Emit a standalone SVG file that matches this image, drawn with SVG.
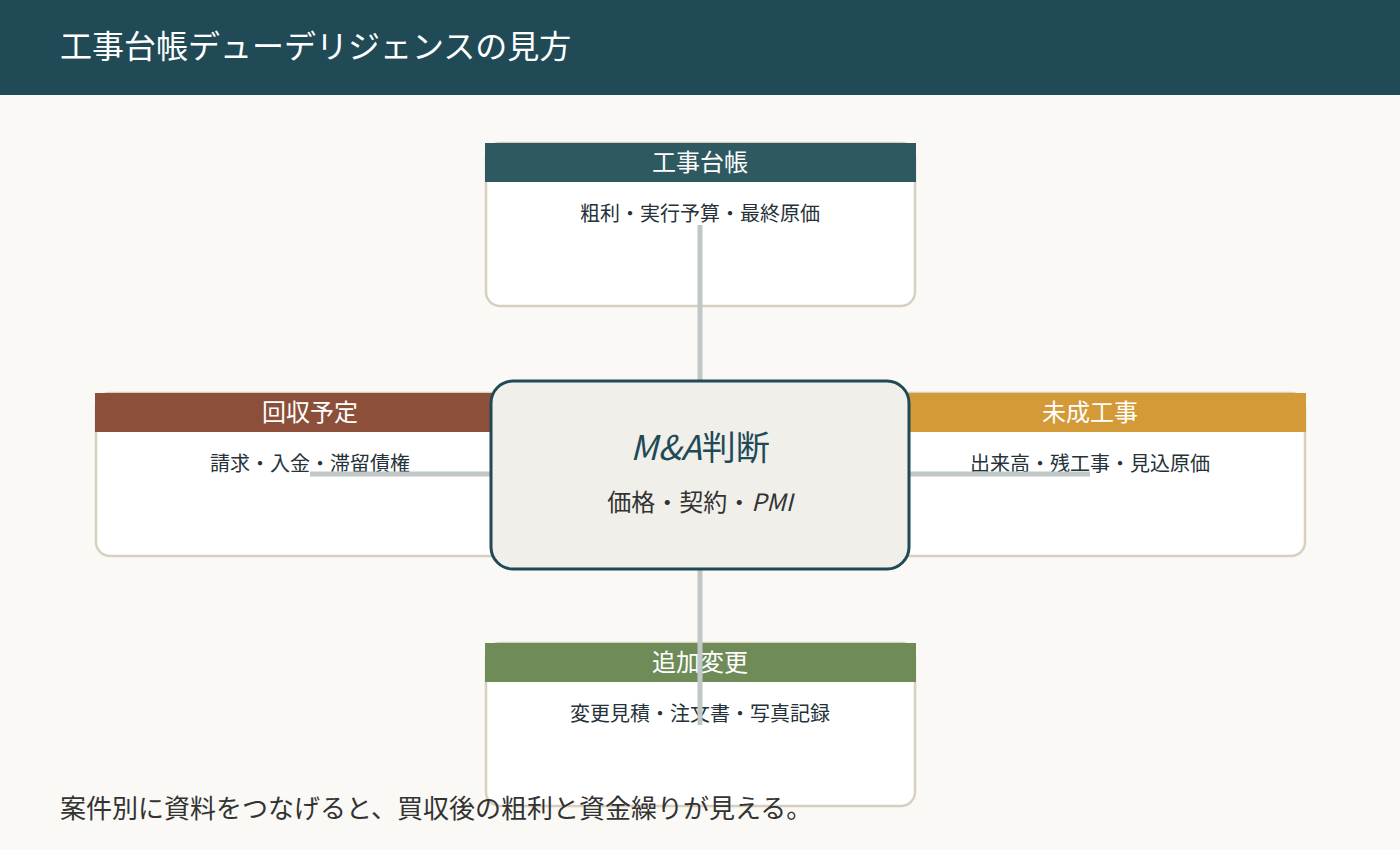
<svg xmlns="http://www.w3.org/2000/svg" width="1400" height="850" viewBox="0 0 1400 850">
<style>
text{font-family:"Noto Sans CJK JP","Noto Sans",sans-serif}
.card{fill:#fff;stroke:#d8cfbf;stroke-width:2.5}
.ht{fill:#fff;font-size:24px;text-anchor:middle}
.bt{fill:#26323a;font-size:20px;text-anchor:middle}
.con{stroke:#bfc8c6;stroke-width:5;fill:none}
</style>
<rect width="1400" height="850" fill="#faf9f5"/>
<rect width="1400" height="95" fill="#214a57"/>
<text x="60" y="58" fill="#fff" font-size="32">工事台帳デューデリジェンスの見方</text>
<g id="top"><rect class="card" x="486" y="143" width="429" height="163" rx="14"/><rect x="485" y="143" width="431" height="39" fill="#2e5961"/><text class="ht" x="700" y="171">工事台帳</text><text class="bt" x="700" y="221">粗利・実行予算・最終原価</text></g>
<g id="left"><rect class="card" x="96" y="393" width="420" height="163" rx="14"/><rect x="95" y="393" width="420" height="39" fill="#8b4f3a"/><text class="ht" x="310" y="421">回収予定</text><text class="bt" x="310" y="471">請求・入金・滞留債権</text></g>
<g id="right"><rect class="card" x="885" y="393" width="420" height="163" rx="14"/><rect x="885" y="393" width="421" height="39" fill="#d49a38"/><text class="ht" x="1090" y="421">未成工事</text><text class="bt" x="1090" y="471">出来高・残工事・見込原価</text></g>
<g id="bottom"><rect class="card" x="486" y="643" width="429" height="163" rx="14"/><rect x="485" y="643" width="431" height="39" fill="#6f8b58"/><text class="ht" x="700" y="671">追加変更</text><text class="bt" x="700" y="721">変更見積・注文書・写真記録</text></g>
<g id="connectors"><path class="con" d="M700 225V381M700 569V725M310 474H491M909 474H1090"/></g>
<g id="center"><rect x="491" y="381" width="418" height="188" rx="22" fill="#f0efea" stroke="#214a57" stroke-width="3"/><text x="700" y="460" text-anchor="middle" font-size="34" fill="#214a57"><tspan font-style="italic">M&amp;A</tspan>判断</text><text x="700" y="511" text-anchor="middle" font-size="24" fill="#333">価格・契約・<tspan font-style="italic">PMI</tspan></text></g>
<text x="60" y="818" fill="#333" font-size="26">案件別に資料をつなげると、買収後の粗利と資金繰りが見える。</text>
</svg>
